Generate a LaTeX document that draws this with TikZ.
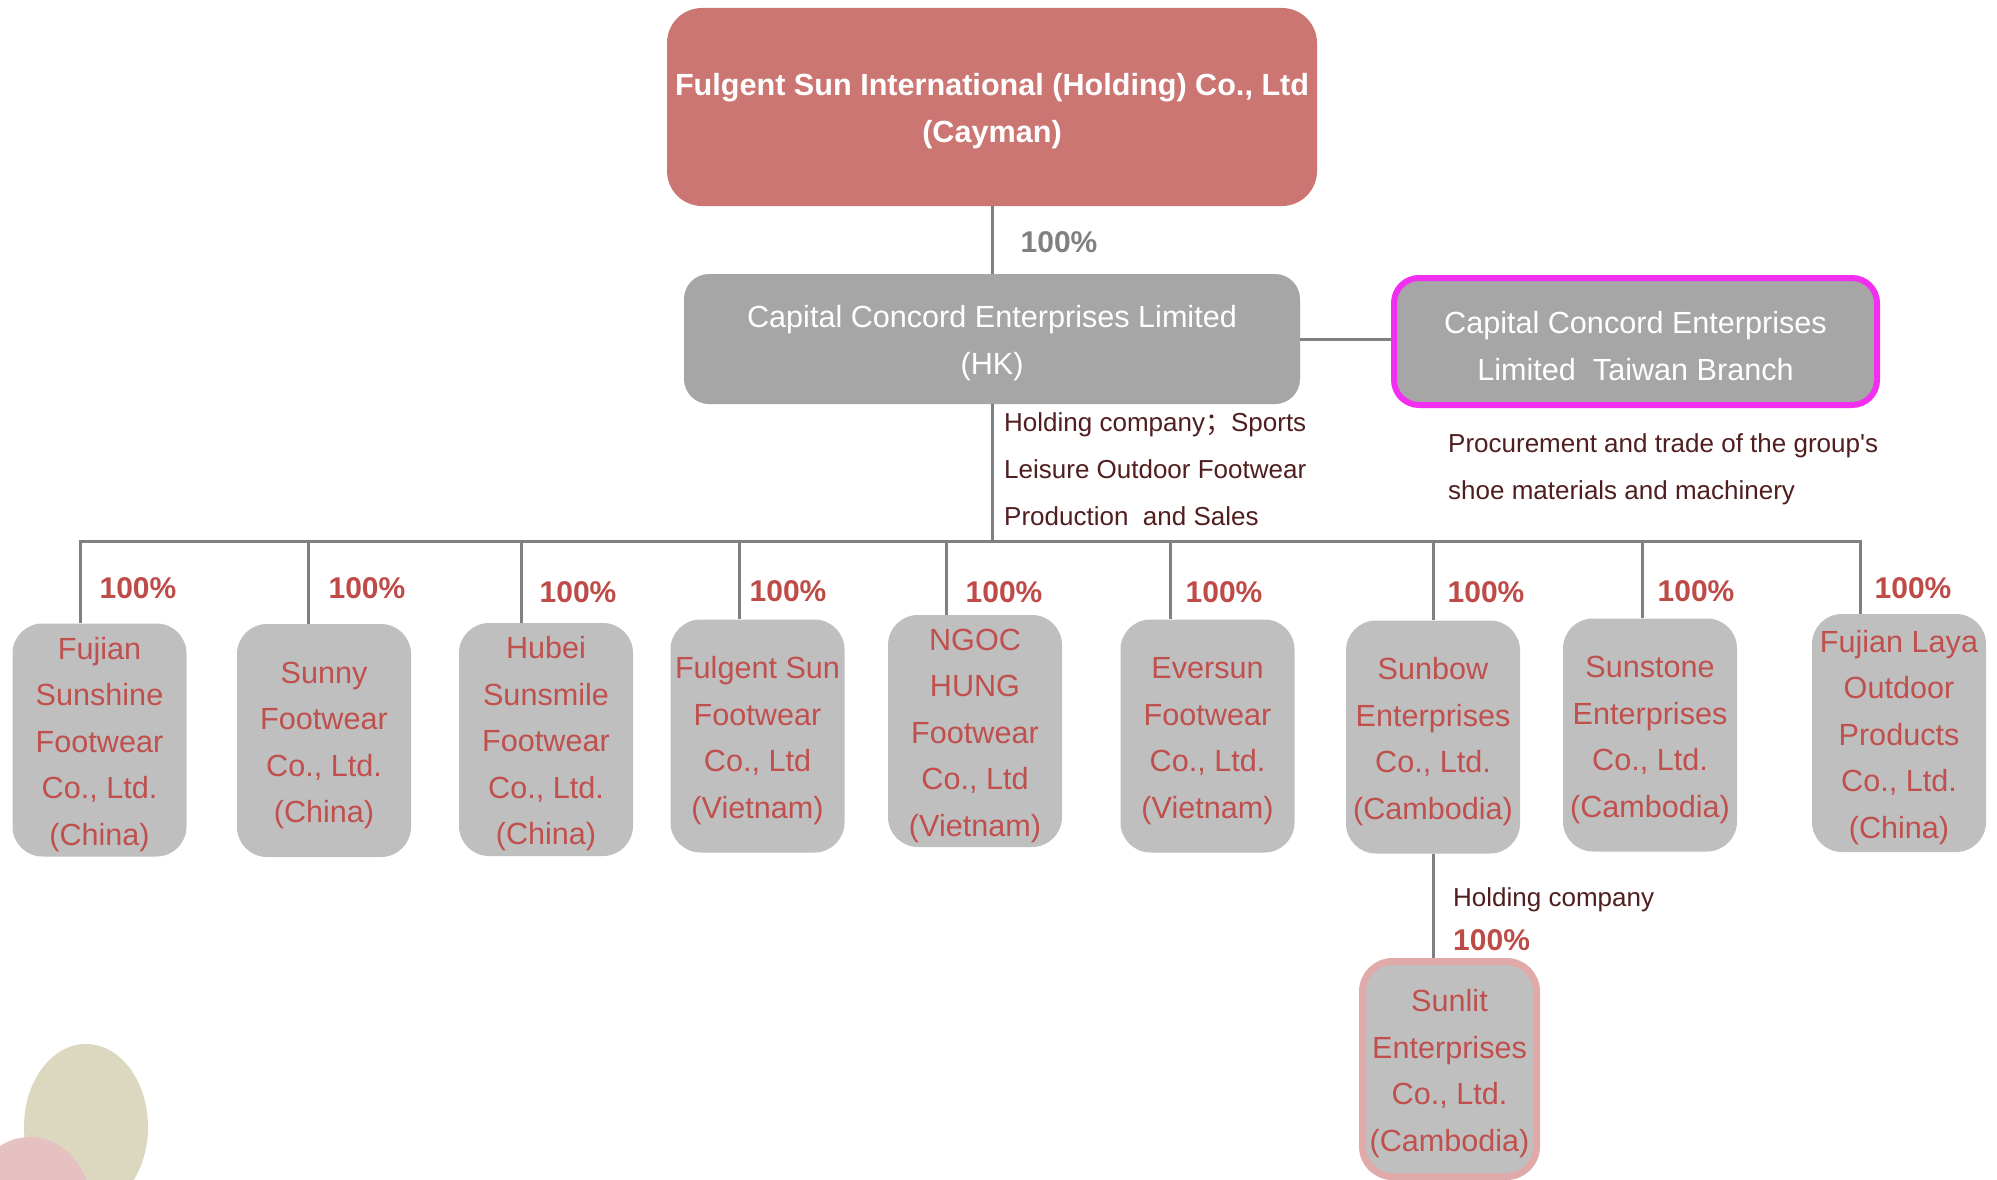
\documentclass[tikz,border=0pt]{standalone}
\usepackage{fontspec}
\setmainfont{Liberation Sans}
\newfontfamily\cjkfont{Noto Sans CJK SC}
\definecolor{topred}{HTML}{CC7673}
\definecolor{boxgray}{HTML}{A6A6A6}
\definecolor{subgray}{HTML}{BFBFBF}
\definecolor{subred}{HTML}{C0504D}
\definecolor{pctred}{HTML}{BE4B48}
\definecolor{linegray}{HTML}{808080}
\definecolor{magentab}{HTML}{F22EF0}
\definecolor{sunlitpink}{HTML}{E0AAAA}
\definecolor{notebrown}{HTML}{501E1E}
\definecolor{beige}{HTML}{DCD8C0}
\definecolor{blush}{HTML}{E6C1C1}
\newcommand\fstrut{\rule{0pt}{31pt}}
\begin{document}
\begin{tikzpicture}[x=1pt,y=-1pt,
  conn/.style={draw=linegray, line width=3pt},
  topbox/.style={rounded corners=35pt, fill=topred, text=white, font=\fontsize{30.6}{47}\selectfont\bfseries, align=center, inner sep=0pt},
  hkbox/.style={rounded corners=25pt, fill=boxgray, text=white, font=\fontsize{30.6}{47}\selectfont, align=center, inner sep=0pt},
  subbox/.style={rounded corners=30pt, fill=subgray, text=subred, font=\fontsize{30.6}{46.5}\selectfont, align=center, inner sep=0pt, minimum width=174pt, minimum height=233pt},
  pct/.style={text=pctred, font=\fontsize{30}{36}\selectfont\bfseries, inner sep=0pt},
  note/.style={text=notebrown, font=\fontsize{26}{47}\selectfont, align=left, inner sep=0pt, anchor=north west}]
\fill[white] (0,0) rectangle (1997,1180);
\useasboundingbox (0,0) rectangle (1997,1180);
% decorative ellipses
\fill[beige] (86,1127) ellipse [x radius=62pt, y radius=83pt];
\fill[blush] (30,1210) ellipse [x radius=62pt, y radius=73pt];
% top levels
\node[topbox, minimum width=650pt, minimum height=198pt] (top) at (992,107) {\fstrut Fulgent Sun International (Holding) Co., Ltd\\(Cayman)};
\node[hkbox, minimum width=616pt, minimum height=130pt] (hk) at (992,339) {\fstrut Capital Concord Enterprises Limited\\(HK)};
\node[hkbox, draw=magentab, line width=6pt, minimum width=483pt, minimum height=127pt] (tw) at (1635.5,341.5) {\fstrut Capital Concord Enterprises\\Limited\ \ Taiwan Branch};
\draw[conn] (top) -- (hk);
\draw[conn] (hk.east) -- (hk.east -| tw.west);
\node[pct, text=linegray] (p0) at (1059,242) {100\%};
% subsidiaries
\node[subbox] (c1) at (99.5,740) {\fstrut Fujian\\Sunshine\\Footwear\\Co., Ltd.\\(China)};
\node[subbox] (c2) at (324,740.5) {\fstrut Sunny\\Footwear\\Co., Ltd.\\(China)};
\node[subbox] (c3) at (546,739.5) {\fstrut Hubei\\Sunsmile\\Footwear\\Co., Ltd.\\(China)};
\node[subbox] (c4) at (757.5,736) {\fstrut Fulgent Sun\\Footwear\\Co., Ltd\\(Vietnam)};
\node[subbox, minimum height=232pt] (c5) at (975,731) {\fstrut NGOC\\HUNG\\Footwear\\Co., Ltd\\(Vietnam)};
\node[subbox] (c6) at (1207.5,736) {\fstrut Eversun\\Footwear\\Co., Ltd.\\(Vietnam)};
\node[subbox] (c7) at (1433,737) {\fstrut Sunbow\\Enterprises\\Co., Ltd.\\(Cambodia)};
\node[subbox] (c8) at (1650,735) {\fstrut Sunstone\\Enterprises\\Co., Ltd.\\(Cambodia)};
\node[subbox, minimum height=238pt] (c9) at (1899,733) {\fstrut Fujian Laya\\Outdoor\\Products\\Co., Ltd.\\(China)};
\node[subbox, draw=sunlitpink, line width=7pt, minimum height=215pt] (c10) at (1449.5,1069) {\fstrut Sunlit\\Enterprises\\Co., Ltd.\\(Cambodia)};
% bus
\coordinate (d1) at (80,541);
\coordinate (d2) at (308,541);
\coordinate (d3) at (521,541);
\coordinate (d4) at (739,541);
\coordinate (d5) at (946,541);
\coordinate (d6) at (1170,541);
\coordinate (d7) at (1433,541);
\coordinate (d8) at (1642,541);
\coordinate (d9) at (1860,541);
\draw[conn] (hk.south) -- (hk.south |- d1);
\draw[conn] (d1 |- c1.north) -- (d1) -- (d9) -- (d9 |- c9.north);
\foreach \i in {2,...,8} {\draw[conn] (d\i) -- (d\i |- c\i.north);}
\draw[conn] (c7.south) -- (c7.south |- c10.north);
% percentages
\node[pct] (p1) at (138,588) {100\%};
\node[pct] (p2) at (367,588) {100\%};
\node[pct] (p3) at (578,592) {100\%};
\node[pct] (p4) at (788,591) {100\%};
\node[pct] (p5) at (1004,592) {100\%};
\node[pct] (p6) at (1224,592) {100\%};
\node[pct] (p7) at (1486,592) {100\%};
\node[pct] (p8) at (1696,591) {100\%};
\node[pct] (p9) at (1913,588) {100\%};
\node[pct, anchor=west] (p10) at (1453,940) {100\%};
% notes
\node[note] (n1) at (1004,412) {Holding company{\cjkfont ；}Sports\\Leisure Outdoor Footwear\\Production\ \ and Sales};
\node[note] (n2) at (1448,433) {Procurement and trade of the group\textquotesingle s\\shoe materials and machinery};
\node[note] (n3) at (1453,887) {Holding company};
\end{tikzpicture}
\end{document}
